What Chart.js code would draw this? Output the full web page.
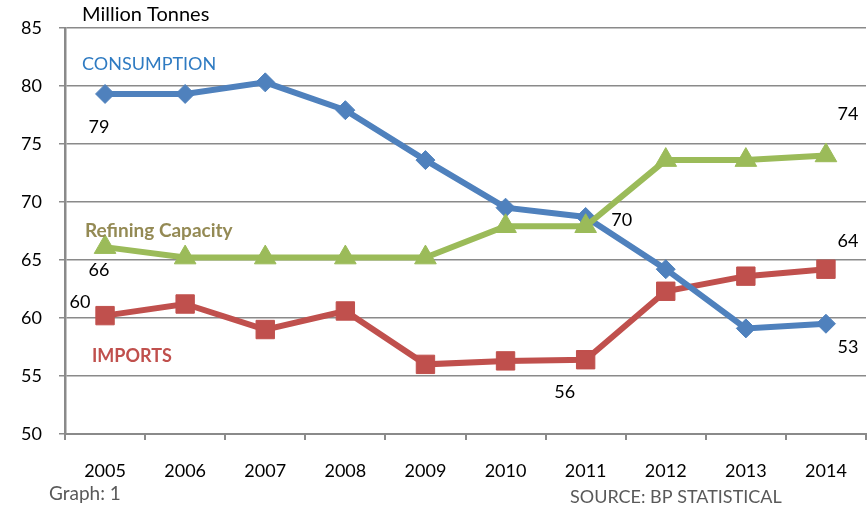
<!DOCTYPE html>
<html>
<head>
<meta charset="utf-8">
<script src="https://cdn.jsdelivr.net/npm/chart.js@4.4.1/dist/chart.umd.min.js"></script>
<style>
  html, body { margin: 0; padding: 0; background: #ffffff; }
  #wrap { width: 867px; height: 509px; position: relative; }
</style>
</head>
<body>
<div id="wrap"><canvas id="oilChart" width="867" height="509"></canvas></div>
<script>
// --- DATA ---
const years = ['2005', '2006', '2007', '2008', '2009', '2010', '2011', '2012', '2013', '2014'];
const consumption = [79.3, 79.3, 80.3, 77.9, 73.6, 69.5, 68.7, 64.2, 59.1, 59.5];
const refiningCapacity = [66.1, 65.2, 65.2, 65.2, 65.2, 67.9, 67.9, 73.6, 73.6, 74.0];
const imports = [60.2, 61.2, 59.0, 60.6, 56.0, 56.3, 56.4, 62.3, 63.6, 64.2];

// value callouts: text, series (0 consumption, 1 imports, 2 refining), year index
const calloutTexts = ['79', '66', '60', '70', '74', '64', '56', '53'];
const calloutSeries = [0, 2, 1, 0, 2, 1, 1, 0];
const calloutIndex = [0, 0, 0, 6, 9, 9, 6, 9];

const BLUE = '#4F81BD';
const RED = '#C0504D';
const GREEN = '#9BBB59';
const GRID = '#8a8a8a';
const FONT = 'Lato, "Open Sans", sans-serif';

// offsets of each callout from its point, in pixels
const calloutOffsets = [[-6, 33], [-6, 23], [-25, -13], [36, 3], [22, -41], [22, -28], [-21, 32], [22, 23]];

// free text drawn over the chart (series names, axis title, footer)
const textPlugin = {
    id: 'chartTexts',
    afterDraw(chart) {
        const ctx = chart.ctx;
        ctx.save();
        ctx.textBaseline = 'middle';

        ctx.fillStyle = '#000000';
        ctx.font = '20px ' + FONT;
        ctx.textAlign = 'left';
        ctx.fillText('Million Tonnes', 82, 15);

        ctx.fillStyle = '#2F7BC2';
        ctx.font = '18px ' + FONT;
        ctx.fillText('CONSUMPTION', 82, 64);

        ctx.fillStyle = '#948A54';
        ctx.font = 'bold 19px ' + FONT;
        ctx.fillText('Refining Capacity', 85, 231);

        ctx.fillStyle = RED;
        ctx.font = 'bold 18px ' + FONT;
        ctx.fillText('IMPORTS', 92, 356);

        ctx.fillStyle = '#595959';
        ctx.font = '19px ' + FONT;
        ctx.fillText('Graph: 1', 49, 494);
        ctx.font = '18px ' + FONT;
        ctx.fillText('SOURCE: BP STATISTICAL', 570, 497);

        // value callouts next to their points
        ctx.fillStyle = '#000000';
        ctx.font = '18px ' + FONT;
        ctx.textAlign = 'center';
        calloutTexts.forEach((txt, i) => {
            const pt = chart.getDatasetMeta(calloutSeries[i]).data[calloutIndex[i]];
            const [dx, dy] = calloutOffsets[i];
            ctx.fillText(txt, pt.x + dx, pt.y + dy);
        });
        ctx.restore();
    }
};

function seriesStyle(color, shape, radius) {
    return {
        borderColor: color,
        backgroundColor: color,
        borderWidth: 6,
        pointStyle: shape,
        pointRadius: radius,
        pointBorderWidth: 1,
        pointBackgroundColor: color,
        pointBorderColor: color,
        tension: 0
    };
}

const ctx = document.getElementById('oilChart').getContext('2d');
new Chart(ctx, {
    type: 'line',
    data: {
        labels: years,
        datasets: [
            Object.assign({ label: 'CONSUMPTION', data: consumption, order: 1 }, seriesStyle(BLUE, 'rectRot', 9.5)),
            Object.assign({ label: 'IMPORTS', data: imports, order: 2 }, seriesStyle(RED, 'rect', 13)),
            Object.assign({ label: 'Refining Capacity', data: refiningCapacity, order: 0 }, seriesStyle(GREEN, 'triangle', 12.5))
        ]
    },
    options: {
        responsive: false,
        animation: false,
        layout: { autoPadding: false, padding: { top: 27, right: 1, left: 0, bottom: 0 } },
        plugins: { legend: { display: false }, tooltip: { enabled: false } },
        scales: {
            x: {
                type: 'category',
                offset: true,
                grid: { offset: true, drawOnChartArea: false, tickLength: 6, color: GRID, lineWidth: 2 },
                border: { color: GRID, width: 2 },
                ticks: { color: '#000000', font: { family: FONT, size: 18 }, padding: 20, maxRotation: 0 },
                afterFit(scale) {
                    scale.height = 75;
                    scale.paddingLeft = 0;
                    scale.paddingRight = 0;
                }
            },
            y: {
                min: 50,
                max: 85,
                ticks: { stepSize: 5, color: '#000000', font: { family: FONT, size: 18 }, padding: 17 },
                grid: { color: GRID, lineWidth: 1.5, tickLength: 6 },
                border: { color: GRID, width: 2.5 },
                afterFit(scale) { scale.width = 65; }
            }
        }
    },
    plugins: [textPlugin]
});
</script>
</body>
</html>
